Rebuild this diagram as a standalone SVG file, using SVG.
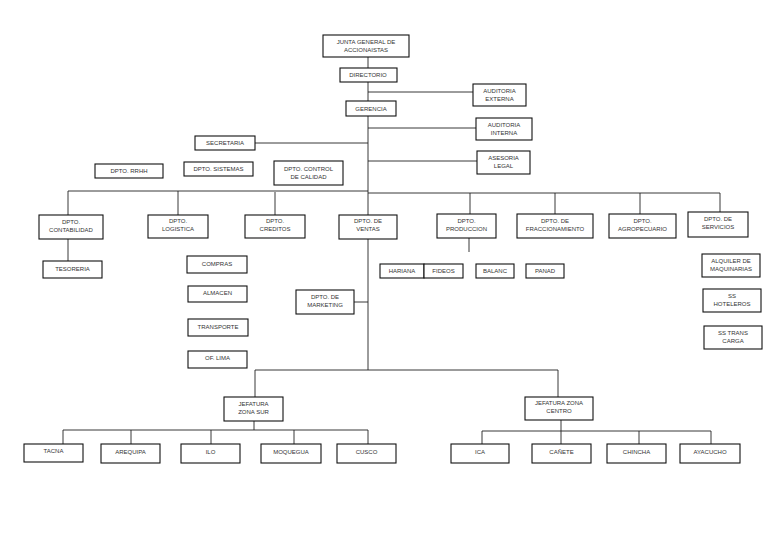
<svg xmlns="http://www.w3.org/2000/svg" width="768" height="543" viewBox="0 0 768 543">
<style>
rect{fill:#fff;stroke:#111;stroke-width:1.1}
text{font-family:"Liberation Sans",Arial,sans-serif;font-size:6px;fill:#333;text-anchor:middle}
#connectors path{fill:none;stroke:#222;stroke-width:0.9}
</style>
<rect x="0" y="0" width="768" height="543" style="stroke:none"/>
<g id="connectors">
<path d="M368 57V370"/>
<path d="M368 92H473M368 128H476M255 143H368M368 161H477"/>
<path d="M68 191H368M368 193H720"/>
<path d="M68 191V215M178 191V215M275 192V215M470 193V214M555 193V214M640 193V214M720 193V212"/>
<path d="M68 239V261M469 238V252M354 302H368"/>
<path d="M255 370H558M255 370V397M558 370V397"/>
<path d="M254 421V430M63 430H368M63 430V444M131 430V444M211 430V444M294 430V444M368 430V444"/>
<path d="M561 420V431M482 431H711M482 431V444M561 431V444M639 431V444M711 431V444"/>
</g>
<g id="junta"><rect x="323" y="35" width="86" height="22"/><text x="366" y="44">JUNTA GENERAL DE</text><text x="366" y="52">ACCIONAISTAS</text></g>
<g id="directorio"><rect x="340" y="68" width="57" height="14"/><text x="368" y="77">DIRECTORIO</text></g>
<g id="gerencia"><rect x="346" y="101" width="50" height="15"/><text x="371" y="111">GERENCIA</text></g>
<g id="aud-ext"><rect x="473" y="84" width="53" height="22"/><text x="499.5" y="93">AUDITORIA</text><text x="499.5" y="101">EXTERNA</text></g>
<g id="aud-int"><rect x="476" y="118" width="56" height="22"/><text x="504" y="127">AUDITORIA</text><text x="504" y="135">INTERNA</text></g>
<g id="secretaria"><rect x="195" y="136" width="60" height="14"/><text x="225" y="145">SECRETARIA</text></g>
<g id="asesoria"><rect x="477" y="151" width="53" height="23"/><text x="503.5" y="160">ASESORIA</text><text x="503.5" y="168">LEGAL</text></g>
<g id="rrhh"><rect x="95" y="164" width="68" height="14"/><text x="129" y="173">DPTO. RRHH</text></g>
<g id="sistemas"><rect x="184" y="162" width="69" height="14"/><text x="218.5" y="171">DPTO. SISTEMAS</text></g>
<g id="calidad"><rect x="274" y="161" width="69" height="24"/><text x="308.5" y="171">DPTO. CONTROL</text><text x="308.5" y="179">DE CALIDAD</text></g>
<g id="contabilidad"><rect x="39" y="215" width="64" height="24"/><text x="71" y="224">DPTO.</text><text x="71" y="232">CONTABILIDAD</text></g>
<g id="logistica"><rect x="148" y="215" width="60" height="23"/><text x="178" y="223">DPTO.</text><text x="178" y="231">LOGISTICA</text></g>
<g id="creditos"><rect x="245" y="215" width="60" height="23"/><text x="275" y="223">DPTO.</text><text x="275" y="231">CREDITOS</text></g>
<g id="ventas"><rect x="339" y="215" width="58" height="24"/><text x="368" y="223">DPTO. DE</text><text x="368" y="231">VENTAS</text></g>
<g id="produccion"><rect x="437" y="214" width="59" height="24"/><text x="466.5" y="223">DPTO.</text><text x="466.5" y="231">PRODUCCION</text></g>
<g id="fraccionamiento"><rect x="517" y="214" width="76" height="24"/><text x="555" y="223">DPTO. DE</text><text x="555" y="231">FRACCIONAMIENTO</text></g>
<g id="agropecuario"><rect x="609" y="214" width="67" height="24"/><text x="642.5" y="223">DPTO.</text><text x="642.5" y="231">AGROPECUARIO</text></g>
<g id="servicios"><rect x="688" y="212" width="60" height="25"/><text x="718" y="221">DPTO. DE</text><text x="718" y="229">SERVICIOS</text></g>
<g id="tesoreria"><rect x="43" y="261" width="59" height="17"/><text x="72.5" y="271">TESORERIA</text></g>
<g id="compras"><rect x="187" y="256" width="60" height="17"/><text x="217" y="266">COMPRAS</text></g>
<g id="almacen"><rect x="188" y="286" width="59" height="16"/><text x="217.5" y="295">ALMACEN</text></g>
<g id="transporte"><rect x="188" y="319" width="60" height="17"/><text x="218" y="329">TRANSPORTE</text></g>
<g id="oflima"><rect x="188" y="351" width="59" height="17"/><text x="217.5" y="360">OF. LIMA</text></g>
<g id="marketing"><rect x="296" y="290" width="58" height="24"/><text x="325" y="299">DPTO. DE</text><text x="325" y="307">MARKETING</text></g>
<g id="hariana"><rect x="380" y="264" width="44" height="14"/><text x="402" y="273">HARIANA</text></g>
<g id="fideos"><rect x="424" y="264" width="39" height="14"/><text x="443.5" y="273">FIDEOS</text></g>
<g id="balanc"><rect x="476" y="264" width="38" height="14"/><text x="495" y="273">BALANC</text></g>
<g id="panad"><rect x="526" y="264" width="38" height="14"/><text x="545" y="273">PANAD</text></g>
<g id="alquiler"><rect x="702" y="254" width="58" height="23"/><text x="731" y="263">ALQUILER DE</text><text x="731" y="271">MAQUINARIAS</text></g>
<g id="hoteleros"><rect x="703" y="289" width="58" height="23"/><text x="732" y="298">SS</text><text x="732" y="306">HOTELEROS</text></g>
<g id="transcarga"><rect x="704" y="326" width="58" height="23"/><text x="733" y="335">SS TRANS</text><text x="733" y="343">CARGA</text></g>
<g id="zonasur"><rect x="224" y="397" width="59" height="24"/><text x="253.5" y="406">JEFATURA</text><text x="253.5" y="414">ZONA SUR</text></g>
<g id="zonacentro"><rect x="525" y="397" width="68" height="23"/><text x="559" y="405">JEFATURA ZONA</text><text x="559" y="413">CENTRO</text></g>
<g id="tacna"><rect x="24" y="444" width="59" height="18"/><text x="53.5" y="453">TACNA</text></g>
<g id="arequipa"><rect x="101" y="444" width="59" height="19"/><text x="130.5" y="454">AREQUIPA</text></g>
<g id="ilo"><rect x="181" y="444" width="59" height="19"/><text x="210.5" y="454">ILO</text></g>
<g id="moquegua"><rect x="261" y="444" width="60" height="19"/><text x="291" y="454">MOQUEGUA</text></g>
<g id="cusco"><rect x="337" y="444" width="59" height="19"/><text x="366.5" y="454">CUSCO</text></g>
<g id="ica"><rect x="451" y="444" width="58" height="19"/><text x="480" y="454">ICA</text></g>
<g id="canete"><rect x="532" y="444" width="59" height="19"/><text x="561.5" y="454">CAÑETE</text></g>
<g id="chincha"><rect x="607" y="444" width="59" height="19"/><text x="636.5" y="454">CHINCHA</text></g>
<g id="ayacucho"><rect x="680" y="444" width="60" height="19"/><text x="710" y="454">AYACUCHO</text></g>
</svg>
